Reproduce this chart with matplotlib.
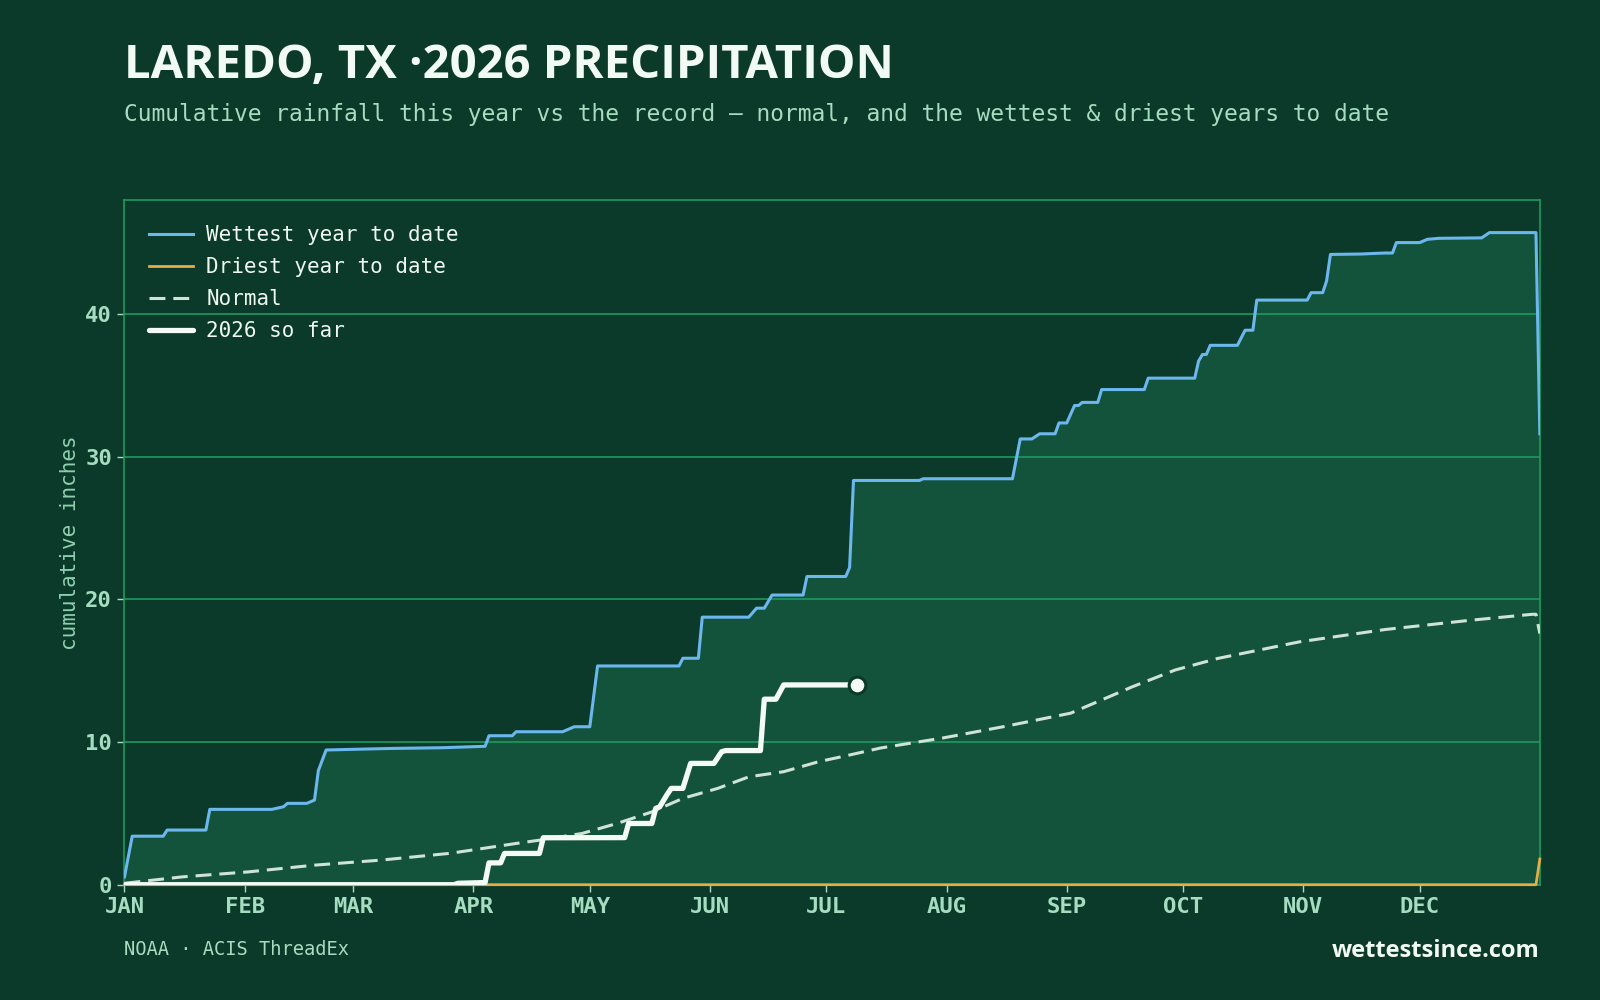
from matplotlib import pyplot as plt

# day of year (0 = Jan 1) and cumulative inches
wet_day = [0, 2, 10, 11, 21, 22, 38, 41, 42, 47, 49, 50, 52, 61, 69, 82, 93, 94, 100, 101,
           113, 116, 120, 122, 143, 144, 148, 149, 161, 163, 165, 167, 175, 176, 186, 187, 188, 205, 206, 229,
           231, 234, 236, 240, 241, 243, 245, 246, 247, 251, 252, 263, 264, 276, 277, 278, 279, 280, 287, 289,
           291, 292, 305, 306, 309, 310, 311, 319, 325, 327, 328, 334, 336, 339, 350, 352, 364, 365]
wet_val = [0.55, 3.4, 3.4, 3.83, 3.83, 5.28, 5.28, 5.46, 5.7, 5.7, 5.93, 8.0, 9.44, 9.5, 9.55, 9.6, 9.7, 10.44, 10.44, 10.72,
           10.72, 11.07, 11.07, 15.33, 15.33, 15.87, 15.87, 18.75, 18.75, 19.38, 19.38, 20.3, 20.3, 21.6, 21.6, 22.23, 28.33, 28.33, 28.45, 28.45,
           31.24, 31.24, 31.6, 31.6, 32.36, 32.36, 33.58, 33.58, 33.8, 33.8, 34.7, 34.7, 35.5, 35.5, 36.7, 37.16, 37.16, 37.8, 37.8, 38.86,
           38.86, 40.97, 40.97, 41.49, 41.49, 42.3, 44.17, 44.2, 44.27, 44.27, 45.0, 45.0, 45.23, 45.3, 45.33, 45.7, 45.7, 31.6]

dry_day = [0, 364, 365]
dry_val = [0, 0, 1.8]

normal_day = [0, 15, 32, 49, 66, 84, 101, 107, 118, 127, 136, 144, 153, 161, 170, 179, 187, 195,
              211, 227, 244, 249, 260, 271, 282, 303, 325, 347, 363, 364, 365]
normal_val = [0.1, 0.55, 0.9, 1.37, 1.72, 2.2, 2.89, 3.12, 3.59, 4.29, 5.1, 6.05, 6.75, 7.56, 7.92, 8.62, 9.09, 9.58,
              10.28, 11.09, 12.02, 12.6, 13.88, 15.05, 15.86, 17.02, 17.88, 18.53, 18.95, 18.95, 17.6]

now_day = [0, 85, 86, 93, 94, 97, 98, 107, 108, 129, 130, 136, 137, 138, 140, 141, 144, 146, 152, 154,
           155, 164, 165, 168, 170, 189]
now_val = [0, 0, 0.1, 0.15, 1.53, 1.53, 2.19, 2.19, 3.29, 3.3, 4.29, 4.29, 5.35, 5.45, 6.35, 6.75, 6.75, 8.5, 8.5, 9.32,
           9.4, 9.4, 13.0, 13.0, 14.0, 14.0]

month_day = [0, 31, 59, 90, 120, 151, 181, 212, 243, 273, 304, 334]
month_lab = ['JAN', 'FEB', 'MAR', 'APR', 'MAY', 'JUN', 'JUL', 'AUG', 'SEP', 'OCT', 'NOV', 'DEC']

bg = '#0c3a2a'
fill = '#13523b'
grid = '#1c9a5e'
mint = '#a6dcc0'
mono = 'DejaVu Sans Mono'
sans = 'Open Sans'

fig = plt.figure(figsize=(16, 10), dpi=100, facecolor=bg)
ax = fig.add_axes([0.0778, 0.1153, 0.8846, 0.6847])
ax.set_facecolor(bg)

ax.fill_between(wet_day, wet_val, 0, color=fill, lw=0, zorder=1)
ax.plot(wet_day, wet_val, color='#6cb8ee', lw=2.2, label='Wettest year to date', zorder=3)
ax.plot(dry_day, dry_val, color='#e4ad45', lw=2.0, label='Driest year to date', zorder=3, clip_on=False)
ax.plot(normal_day, normal_val, color='#cfe3d6', lw=2.2, dashes=(5.2, 2.6), label='Normal', zorder=3)
ax.plot(now_day, now_val, color='#f4fbf6', lw=3.8, solid_joinstyle='round', solid_capstyle='round',
        label='2026 so far', zorder=4)
ax.plot(now_day[-1], now_val[-1], 'o', ms=12, mfc='#f4fbf6', mec=bg, mew=2.2, zorder=5)

ax.set_xlim(0, 365)
ax.set_ylim(0, max(wet_val) * 1.05)
ax.set_xticks(month_day)
ax.set_xticklabels(month_lab)
ax.set_yticks([0, 10, 20, 30, 40])
ax.grid(axis='y', color=grid, lw=1.2)
for s in ax.spines.values():
    s.set_color(grid)
    s.set_linewidth(1.2)
ax.tick_params(colors=mint, length=5, width=1, pad=4, labelsize=16)
for t in ax.get_xticklabels() + ax.get_yticklabels():
    t.set_family(mono)
    t.set_weight('bold')
ax.set_ylabel('cumulative inches', family=mono, fontsize=15, color='#8fcfb0', labelpad=4)

leg = ax.legend(loc='upper left', frameon=False, prop={'family': mono, 'size': 15},
                handlelength=2.1, handletextpad=0.62, labelspacing=0.58, borderaxespad=0.8)
for t in leg.get_texts():
    t.set_color('#eef7f1')

fig.text(0.0778, 0.922, 'LAREDO, TX \u00b72026 PRECIPITATION', family=sans, weight='bold',
         fontsize=34, color='#f2faf5', va='baseline')
fig.text(0.0778, 0.879, 'Cumulative rainfall this year vs the record \u2014 normal, and the wettest & driest years to date',
         family=mono, fontsize=16.5, color=mint, va='baseline')
fig.text(0.0778, 0.045, 'NOAA \u00b7 ACIS ThreadEx', family=mono, fontsize=13.5, color=mint, va='baseline')
fig.text(0.9624, 0.043, 'wettestsince.com', family=sans, weight='bold', fontsize=17, color='#f2faf5',
         va='baseline', ha='right')

plt.savefig('out.png', dpi=100, facecolor=bg)
